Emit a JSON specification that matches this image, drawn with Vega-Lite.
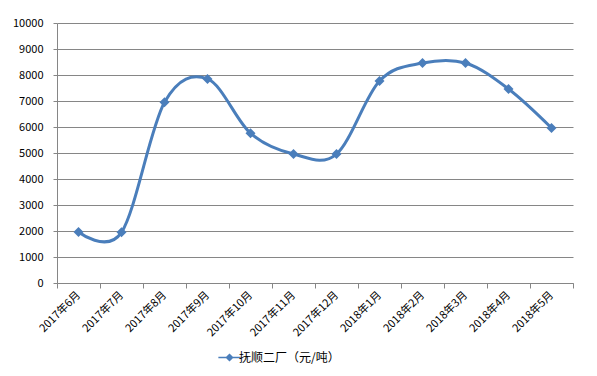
{
  "$schema": "https://vega.github.io/schema/vega-lite/v6.json",
  "width": 516,
  "height": 260,
  "autosize": {"type": "none"},
  "padding": {"left": 57, "top": 23, "right": 24, "bottom": 93},
  "background": "white",
  "config": {
    "view": {"stroke": null},
    "font": "Noto Sans CJK SC"
  },
  "data": {
    "values": [
      {"month": "2017年6月", "price": 1960, "series": "抚顺二厂（元/吨）"},
      {"month": "2017年7月", "price": 1950, "series": "抚顺二厂（元/吨）"},
      {"month": "2017年8月", "price": 6950, "series": "抚顺二厂（元/吨）"},
      {"month": "2017年9月", "price": 7850, "series": "抚顺二厂（元/吨）"},
      {"month": "2017年10月", "price": 5760, "series": "抚顺二厂（元/吨）"},
      {"month": "2017年11月", "price": 4960, "series": "抚顺二厂（元/吨）"},
      {"month": "2017年12月", "price": 4960, "series": "抚顺二厂（元/吨）"},
      {"month": "2018年1月", "price": 7770, "series": "抚顺二厂（元/吨）"},
      {"month": "2018年2月", "price": 8460, "series": "抚顺二厂（元/吨）"},
      {"month": "2018年3月", "price": 8460, "series": "抚顺二厂（元/吨）"},
      {"month": "2018年4月", "price": 7460, "series": "抚顺二厂（元/吨）"},
      {"month": "2018年5月", "price": 5960, "series": "抚顺二厂（元/吨）"}
    ]
  },
  "mark": {
    "type": "line",
    "interpolate": "cardinal",
    "tension": 0,
    "strokeWidth": 3,
    "point": {"shape": "diamond", "filled": true, "size": 100, "color": "#4A7EBB"}
  },
  "encoding": {
    "x": {
      "field": "month",
      "type": "ordinal",
      "sort": null,
      "bandPosition": 0.5,
      "scale": {"type": "band", "paddingInner": 0, "paddingOuter": 0},
      "axis": {
        "title": null,
        "labelAngle": -45,
        "labelAlign": "right",
        "labelBaseline": "middle",
        "labelFontSize": 11,
        "labelColor": "#000000",
        "labelPadding": 5,
        "tickBand": "extent",
        "tickSize": 5,
        "tickColor": "#868686",
        "domainColor": "#868686",
        "grid": false
      }
    },
    "y": {
      "field": "price",
      "type": "quantitative",
      "scale": {"domain": [0, 10000], "nice": false},
      "axis": {
        "title": null,
        "values": [0, 1000, 2000, 3000, 4000, 5000, 6000, 7000, 8000, 9000, 10000],
        "format": "d",
        "labelFontSize": 11,
        "labelColor": "#000000",
        "tickSize": 4,
        "labelPadding": 10,
        "tickColor": "#868686",
        "domainColor": "#868686",
        "gridColor": "#868686",
        "gridOpacity": 1
      }
    },
    "color": {
      "field": "series",
      "type": "nominal",
      "scale": {"range": ["#4A7EBB"]},
      "legend": {
        "title": null,
        "orient": "none",
        "legendX": 165,
        "legendY": 327,
        "labelFontSize": 12,
        "labelColor": "#000000",
        "symbolType": "M-1.5,-0.1L-0.45,-0.1L0,-0.55L0.45,-0.1L1.5,-0.1L1.5,0.1L0.45,0.1L0,0.55L-0.45,0.1L-1.5,0.1Z",
        "symbolSize": 220,
        "symbolFillColor": "#4A7EBB",
        "symbolStrokeWidth": 0,
        "labelOffset": 2
      }
    }
  }
}
